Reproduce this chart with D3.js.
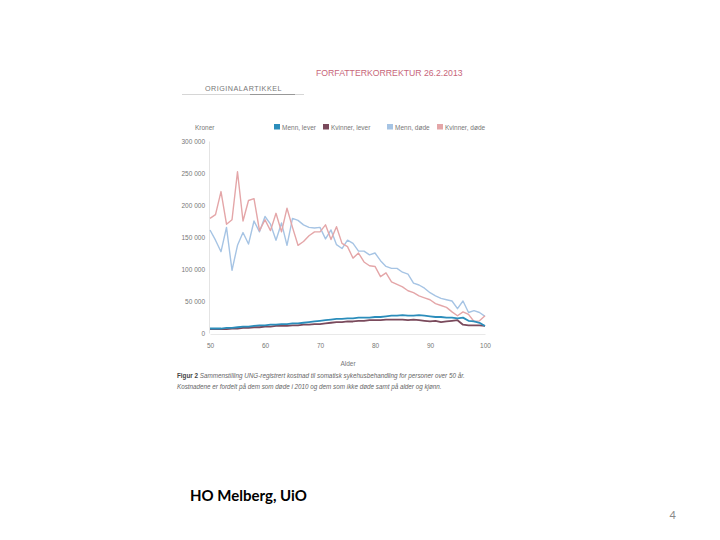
<!DOCTYPE html>
<html><head><meta charset="utf-8">
<script src="https://cdn.jsdelivr.net/npm/d3@7"></script>
<style>body{margin:0;background:#fff}svg{display:block}</style>
</head><body>
<svg id="c" width="720" height="540"></svg>
<script>
const ages = d3.range(50, 101);
const seriesNames = ["Menn, lever", "Kvinner, lever", "Menn, døde", "Kvinner, døde"];
const seriesColors = ["#2b8dbb", "#7a4a5c", "#a6c4e4", "#e4a6a8"];
// values in kroner, ages 50..100
const menAlive = [7,7,7,8,8,9,10,10,11,12,12,13,13,14,14,15,15,16,17,18,19,20,21,22,22,23,23,24,24,24,25,25,26,27,27,28,27,27,28,27,26,25,25,24,24,23,24,19,18,16,11].map(v=>v*1000);
const womenAlive = [6,6,6,6,7,7,8,8,9,9,10,10,11,11,11,12,12,13,13,14,14,15,16,17,17,18,18,19,19,20,20,20,21,21,21,21,20,21,20,19,18,19,17,18,19,20,13,12,12,12,11].map(v=>v*1000);
const menDead = [161,145,127,165,98,137,157,139,175,158,182,170,145,172,137,179,176,169,165,164,165,147,161,138,132,145,140,128,128,122,125,113,104,101,101,95,92,78,75,70,63,58,54,52,50,38,50,32,35,32,26].map(v=>v*1000);
const womenDead = [179,185,221,170,177,252,175,207,210,160,177,160,187,158,195,165,137,143,152,158,158,169,146,166,140,135,117,125,111,105,104,88,94,80,76,72,66,63,58,55,52,46,43,40,33,27,33,29,18,19,27].map(v=>v*1000);
const yTicks = [0, 50000, 100000, 150000, 200000, 250000, 300000];
const xTicks = [50, 60, 70, 80, 90, 100];

const svg = d3.select("#c");
const x = d3.scaleLinear().domain([50, 100]).range([210, 485]);
const y = d3.scaleLinear().domain([0, 300000]).range([333, 141]);
const fmt = v => v === 0 ? "0" : d3.format(",")(v).replace(/,/g, " ");
const font = "Liberation Sans, Arial, sans-serif";

// header texts
svg.append("text").attr("x", 316).attr("y", 76).attr("font-family", font)
  .attr("font-size", 8.7).attr("fill", "#c8667a").text("FORFATTERKORREKTUR 26.2.2013");
svg.append("text").attr("x", 205).attr("y", 91).attr("font-family", font)
  .attr("font-size", 7.2).attr("letter-spacing", 0.5).attr("fill", "#777").text("ORIGINALARTIKKEL");
svg.append("line").attr("x1", 182).attr("x2", 304).attr("y1", 94.5).attr("y2", 94.5).attr("stroke", "#ccc").attr("stroke-width", 0.8);
svg.append("line").attr("x1", 250).attr("x2", 295).attr("y1", 94.5).attr("y2", 94.5).attr("stroke", "#888").attr("stroke-width", 0.8);

svg.append("text").attr("x", 195).attr("y", 130).attr("font-family", font).attr("font-size", 6.5).attr("fill", "#777").text("Kroner");

// legend
const legX = [274, 323, 387, 437];
seriesNames.forEach((n, i) => {
  const g = svg.append("g").attr("transform", `translate(${legX[i]},124)`);
  g.append("rect").attr("width", 6).attr("height", 5.5).attr("fill", seriesColors[i]);
  g.append("text").attr("x", 8).attr("y", 5.5).attr("font-family", font).attr("font-size", 6.5).attr("fill", "#777").text(n);
});

// axes
const ya = svg.append("g").attr("transform", "translate(209,0)")
  .call(d3.axisLeft(y).tickValues(yTicks).tickSize(0).tickPadding(4).tickFormat(fmt));
ya.select(".domain").attr("stroke", "#ddd").attr("stroke-width", 0.8);
ya.selectAll("text").attr("font-family", font).attr("font-size", 6.5).attr("fill", "#777");
const xa = svg.append("g").attr("transform", "translate(0,334)")
  .call(d3.axisBottom(x).tickValues(xTicks).tickSize(0).tickPadding(9).tickFormat(d3.format("d")));
xa.select(".domain").attr("stroke", "#e3e3e3").attr("stroke-width", 0.8);
xa.selectAll("text").attr("font-family", font).attr("font-size", 6.5).attr("fill", "#777");
svg.append("text").attr("x", 348).attr("y", 366).attr("text-anchor", "middle").attr("font-family", font)
  .attr("font-size", 6.5).attr("fill", "#777").text("Alder");

// lines
const line = d3.line().x((d, i) => x(ages[i])).y(d => y(d));
const seriesData = [menDead, womenDead, womenAlive, menAlive];
const seriesCol = [seriesColors[2], seriesColors[3], seriesColors[1], seriesColors[0]];
const seriesW = [1.4, 1.4, 1.8, 1.8];
seriesData.forEach((s, i) => {
  svg.append("path").datum(s).attr("d", line).attr("fill", "none")
    .attr("stroke", seriesCol[i]).attr("stroke-width", seriesW[i]).attr("stroke-linejoin", "round");
});

// caption
const cap = svg.append("text").attr("x", 177).attr("y", 378).attr("font-family", font).attr("font-size", 6.3).attr("fill", "#666");
cap.append("tspan").attr("font-weight", "bold").attr("fill", "#444").text("Figur 2 ");
cap.append("tspan").attr("font-style", "italic").text("Sammenstilling UNG-registrert kostnad til somatisk sykehusbehandling for personer over 50 år.");
svg.append("text").attr("x", 177).attr("y", 389).attr("font-family", font).attr("font-size", 6.3).attr("fill", "#666")
  .attr("font-style", "italic").text("Kostnadene er fordelt på dem som døde i 2010 og dem som ikke døde samt på alder og kjønn.");

// footer
svg.append("text").attr("x", 190).attr("y", 501).attr("font-family", "Lato, Open Sans, sans-serif").attr("font-weight", "bold")
  .attr("font-size", 15).attr("fill", "#000").text("HO Melberg, UiO");
svg.append("text").attr("x", 676).attr("y", 519).attr("text-anchor", "end").attr("font-family", "Lato, sans-serif")
  .attr("font-size", 11).attr("fill", "#888").text("4");
</script>
</body></html>
